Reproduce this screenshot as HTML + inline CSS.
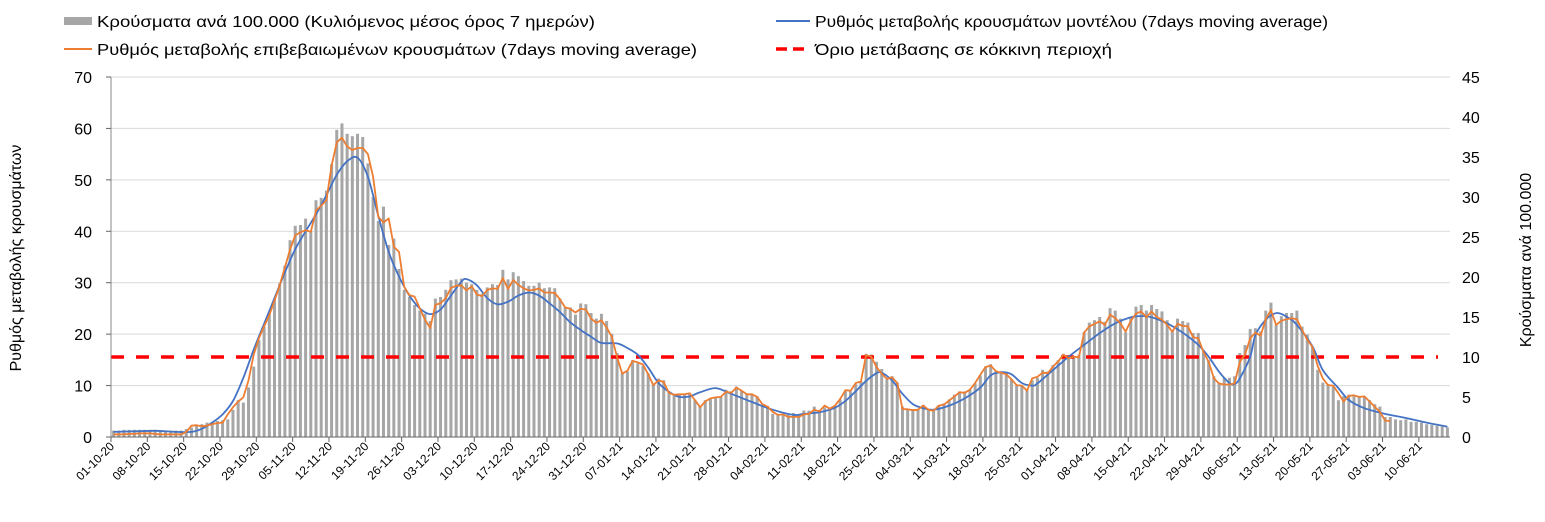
<!DOCTYPE html>
<html><head><meta charset="utf-8">
<style>
html,body{margin:0;padding:0;background:#fff;}
svg{display:block;font-family:"Liberation Sans",Arial,sans-serif;}
</style></head>
<body>
<svg id="chart" width="1545" height="522" viewBox="0 0 1545 522" xmlns="http://www.w3.org/2000/svg">
  <g>
    <g>
      <rect x="64" y="17" width="28" height="8" fill="#a6a6a6"/>
      <text x="97" y="27" font-size="16" fill="#000" textLength="498" lengthAdjust="spacingAndGlyphs">Κρούσματα ανά 100.000 (Κυλιόμενος μέσος όρος 7 ημερών)</text>
    </g>
    <g>
      <line x1="776" y1="21" x2="810" y2="21" stroke="#4472c4" stroke-width="2"/>
      <text x="815" y="27" font-size="16" fill="#000" textLength="513" lengthAdjust="spacingAndGlyphs">Ρυθμός μεταβολής κρουσμάτων μοντέλου (7days moving average)</text>
    </g>
    <g>
      <line x1="64" y1="49" x2="92" y2="49" stroke="#ed7d31" stroke-width="2"/>
      <text x="97" y="55" font-size="16" fill="#000" textLength="600" lengthAdjust="spacingAndGlyphs">Ρυθμός μεταβολής επιβεβαιωμένων κρουσμάτων (7days moving average)</text>
    </g>
    <g>
      <line x1="776" y1="49" x2="810" y2="49" stroke="#ff0000" stroke-width="3.5" stroke-dasharray="11 6"/>
      <text x="815" y="55" font-size="16" fill="#000" textLength="297" lengthAdjust="spacingAndGlyphs">Όριο μετάβασης σε κόκκινη περιοχή</text>
    </g>
  </g>
  <text transform="translate(21,258) rotate(-90)" text-anchor="middle" font-size="16" fill="#000">Ρυθμός μεταβολής κρουσμάτων</text>
  <text transform="translate(1531,260) rotate(-90)" text-anchor="middle" font-size="16" fill="#000">Κρούσματα ανά 100.000</text>
  <g id="grid"></g>
  <g id="bars"></g>
  <g id="lines"></g>
  <g id="axes"></g>
</svg>
<script>
const leftTicks = [0,10,20,30,40,50,60,70];
const rightTicks = [0,5,10,15,20,25,30,35,40,45];
const startDate = [2020,10,1];
const threshold = [10];
const cases = [0.8,0.8,0.9,0.9,0.9,0.9,0.9,0.9,0.9,0.8,0.8,0.8,0.8,0.8,
1.0,1.2,1.4,1.6,1.8,1.9,2.0,2.1,
2.2,3.4,4.6,4.3,6.2,8.8,
12.1,13.8,15.4,17.3,19.2,21.4,24.6,26.4,26.5,27.3,25.8,29.6,29.9,30.8,34.1,38.4,39.2,
37.9,37.6,37.9,37.5,
34.2,30,27,28.8,24,24.8,21,18.4,17.5,16.5,15.8,15.4,
14.5,
17.3,17.5,18.4,19.6,19.7,19.8,19.3,19.1,18.4,17.9,18.7,19.1,19,20.9,19.7,20.6,20.1,19.5,18.9,18.9,19.3,18.6,18.7,18.6,17.3,16.2,16.2,15.3,
16.7,16.6,15.5,14.8,15.4,14.5,12.9,10.5,8,8.2,9.6,9.2,8.9,8,6.6,7.3,7.1,5.6,5.4,5.4,5.4,5.4,4.6,3.8,4.6,4.8,4.9,5.0,5.9,5.7,6.3,5.8,5.4,5.4,5.1,3.9,3.9,2.9,2.8,2.7,2.8,3.0,2.7,3.3,
3.3,3.8,3.4,3.7,3.4,3.9,4.7,5.7,5.7,6.6,7.0,10.4,10.3,9.4,8.5,7.2,7.6,6.8,3.8,3.5,3.5,3.5,4.0,3.4,3.3,4.0,4.2,4.7,5.3,5.7,5.7,5.9,6.7,7.7,8.8,9.1,8.3,8.1,8.1,7.2,6.4,6.4,6.0,7.1,
7.4,8.4,8.2,9.0,9.6,10.4,10.1,10.1,10.3,13.1,14.3,14.6,15.0,14.4,16.1,15.8,14.8,13.1,15.0,16.3,16.5,15.8,16.5,16.0,15.7,14.6,13.4,14.8,14.5,14.3,13.0,13.0,10.8,9.6,7.6,6.8,7.4,7.4,7.6,10.5,
11.5,13.5,13.6,13.2,15.8,16.8,14,15.1,15.5,15.5,15.8,13.8,12.8,11.3,8.4,6.8,6.6,6.3,4.6,5.1,5.3,5.1,5,5,4.6,4.1,3.8,2.5,2.5,2.2,2.1,2.2,1.9,1.9,1.8,1.6,1.5,1.4,1.3,1.2];
const confirmedRate = [0.5,0.5,0.5,0.6,0.6,0.7,0.7,0.7,0.6,0.5,0.5,0.5,0.5,0.5,
1.0,2.2,2.3,2.1,2.2,2.5,2.7,2.8,4.4,5.8,6.9,7.7,11,16,19.2,21.5,23.7,26.5,29.5,33,36.5,39.2,39.8,40.2,39.9,44,45,46,52.8,57.3,58.2,
56.5,55.8,56.2,56.2,55,50.6,42.8,41.7,42.5,37,36,29.2,27.6,27.3,25,22.8,21.2,
25.7,26,27,29,29.4,29.5,28.5,29.3,27.7,27.4,28.6,28.9,28.8,30.9,28.8,30.5,29.6,28.9,28.5,28.6,28.9,28.1,28.1,28,26.8,25.2,24.9,24.2,
24.9,24.8,23,22.2,22.7,21.3,19.5,15.6,12.3,12.9,14.8,14.5,14.1,12.2,10.1,11,10.7,8.6,8.2,8.3,8.3,8.5,7.2,5.8,6.9,7.5,7.7,7.8,8.8,8.6,9.6,9,8.3,8.3,7.8,6.4,5.9,4.9,4.3,4.4,3.9,3.9,3.9,4.4,
4.5,5.3,5.0,6.1,5.5,6.1,7.4,9.1,9.0,10.5,10.8,15.9,15.6,13.6,12.3,11.3,11.6,10.5,5.4,5.4,5.2,5.3,6.1,5.3,5.1,6.1,6.3,7.1,7.9,8.7,8.6,9.2,10.5,12.1,13.6,13.9,12.8,12.5,12.2,11.2,10.1,10.0,9.0,11.4,
11.7,12.5,12.4,13.7,14.7,16.0,15.3,15.6,15.5,20.3,21.5,22.0,22.5,21.8,23.8,23.1,22.1,20.5,22.6,24.0,24.4,23.3,24.4,23.3,22.8,21.8,20.5,22.0,21.6,21.5,19.4,19.2,16.5,14.6,11.4,10.4,10.2,10.2,10.4,14.6,
16.0,19.2,20.3,19.7,22.9,24.7,21.8,22.6,22.9,23.1,22.9,20.8,18.9,17.5,13.8,11.4,10.1,10.0,8.5,6.9,8.0,8.1,7.8,7.9,6.9,5.9,4.9,3.2,3.1];
const modelDays = [0,4,8,12,15,17,19,21,23,25,27,29,31,33,35,37,39,41,43,45,47,49,51,53,55,57,59,61,63,65,67,68,70,72,74,76,78,80,82,84,86,88,90,92,94,97,99,101,103,105,107,109,111,113,116,119,123,127,131,133,136,139,141,143,145,147,148,150,152,154,156,158,161,164,167,169,171,173,175,177,178,181,184,187,190,193,196,198,200,203,206,209,211,213,215,216,217,219,220,222,224,226,228,231,233,236,238,241,245,249,253,257];
const modelRate = [1.0,1.1,1.2,1.0,1.0,1.6,2.8,4.4,7,11.5,17,22,27,32,36.5,40,43.3,47,51,53.6,54.3,50.6,43,36,31.2,27.5,25,23.9,24.8,27.5,30.2,30.7,29.5,27,25.8,26.3,27.5,28.1,27.5,26,24.3,22.3,20.8,19.5,18.3,18.2,17.3,16,13.5,10.5,8.8,7.8,7.9,8.7,9.5,8.4,6.8,5.3,4.3,4.5,4.8,5.7,7,8.9,10.9,12.4,12.5,11,8.4,6.4,5.6,5.3,6.1,7.5,9.6,12,12.6,12.2,10.5,10,10.4,13,15.6,17.9,20.2,22.1,23.3,23.5,23.3,22.1,20.3,17.9,15.6,12.7,10.5,10.3,11.4,15.6,19.8,22.8,24.1,23.4,21.8,17.6,13,9.5,7.2,5.6,4.5,3.7,2.8,2.0];

const NS = "http://www.w3.org/2000/svg";
const X0 = 111, X1 = 1450, Y0 = 437, YTOP = 77;
const N = 258;
const slot = (X1 - X0) / N;
const xCenter = i => X0 + slot * (i + 0.5);
const xEdge = i => X0 + slot * i;
const yL = v => Y0 - (v / 70) * (Y0 - YTOP);
const yR = v => Y0 - (v / 45) * (Y0 - YTOP);
function mk(tag, attrs, parent){ const e = document.createElementNS(NS, tag); for (const k in attrs) e.setAttribute(k, attrs[k]); parent.appendChild(e); return e; }

const grid = document.getElementById('grid');
leftTicks.forEach(t => { if (t > 0) {
  const g = mk('line', {x1:X0, x2:X1, y1:yL(t), y2:yL(t), stroke:'#d9d9d9', 'stroke-width':1}, grid);
  
  
}});

const barsG = document.getElementById('bars');
cases.forEach((v, i) => {
  const r = mk('rect', {x:xCenter(i) - 1.5, y:yR(v), width:3, height:Y0 - yR(v), fill:'#a6a6a6'}, barsG);
  
  
});

const linesG = document.getElementById('lines');
const th = mk('line', {x1:X0, x2:1438, y1:yR(threshold[0]), y2:yR(threshold[0]), stroke:'#ff0000', 'stroke-width':3.5, 'stroke-dasharray':'13 12'}, linesG);



const pts = modelDays.map((d, i) => [xCenter(d), yL(modelRate[i])]);
let dPath = 'M' + pts[0][0].toFixed(1) + ' ' + pts[0][1].toFixed(1);
for (let i = 0; i < pts.length - 1; i++) {
  const p0 = pts[Math.max(0, i - 1)], p1 = pts[i], p2 = pts[i + 1], p3 = pts[Math.min(pts.length - 1, i + 2)];
  const c1x = p1[0] + (p2[0] - p0[0]) / 6, c1y = p1[1] + (p2[1] - p0[1]) / 6;
  const c2x = p2[0] - (p3[0] - p1[0]) / 6, c2y = p2[1] - (p3[1] - p1[1]) / 6;
  dPath += ' C' + c1x.toFixed(1) + ' ' + c1y.toFixed(1) + ' ' + c2x.toFixed(1) + ' ' + c2y.toFixed(1) + ' ' + p2[0].toFixed(1) + ' ' + p2[1].toFixed(1);
}
const blue = mk('path', {d:dPath, fill:'none', stroke:'#4472c4', 'stroke-width':1.8}, linesG);



const oPts = confirmedRate.map((v, i) => xCenter(i).toFixed(1) + ',' + yL(v).toFixed(1)).join(' ');
const orange = mk('polyline', {points:oPts, fill:'none', stroke:'#ed7d31', 'stroke-width':1.8, 'stroke-linejoin':'round'}, linesG);



const axes = document.getElementById('axes');
const la = mk('line', {x1:X0, x2:X0, y1:YTOP, y2:Y0, stroke:'#888', 'stroke-width':1}, axes);


const xa = mk('line', {x1:X0, x2:X1, y1:Y0, y2:Y0, stroke:'#666', 'stroke-width':1}, axes);


leftTicks.forEach(t => {
  mk('line', {x1:X0 - 5, x2:X0, y1:yL(t), y2:yL(t), stroke:'#666'}, axes);
  const tx = mk('text', {x:92, y:yL(t) + 6, 'text-anchor':'end', 'font-size':16, fill:'#000'}, axes);
  tx.textContent = t;
  
  
});
rightTicks.forEach(t => {
  const tx = mk('text', {x:1462, y:yR(t) + 6, 'font-size':16, fill:'#000'}, axes);
  tx.textContent = t;
  
  
});
const pad = n => String(n).padStart(2, '0');
for (let k = 0; k * 7 < N; k++) {
  const d = new Date(startDate[0], startDate[1] - 1, startDate[2] + k * 7);
  const lbl = pad(d.getDate()) + '-' + pad(d.getMonth() + 1) + '-' + String(d.getFullYear()).slice(2);
  const xt = xEdge(k * 7);
  mk('line', {x1:xt, x2:xt, y1:Y0, y2:Y0 + 5, stroke:'#666'}, axes);
  const tx = mk('text', {x:0, y:0, 'text-anchor':'end', 'font-size':12, fill:'#000', transform:'translate(' + (xt + 4).toFixed(1) + ',' + (Y0 + 10) + ') rotate(-45)'}, axes);
  tx.textContent = lbl;
  
  
}
</script>
</body></html>
